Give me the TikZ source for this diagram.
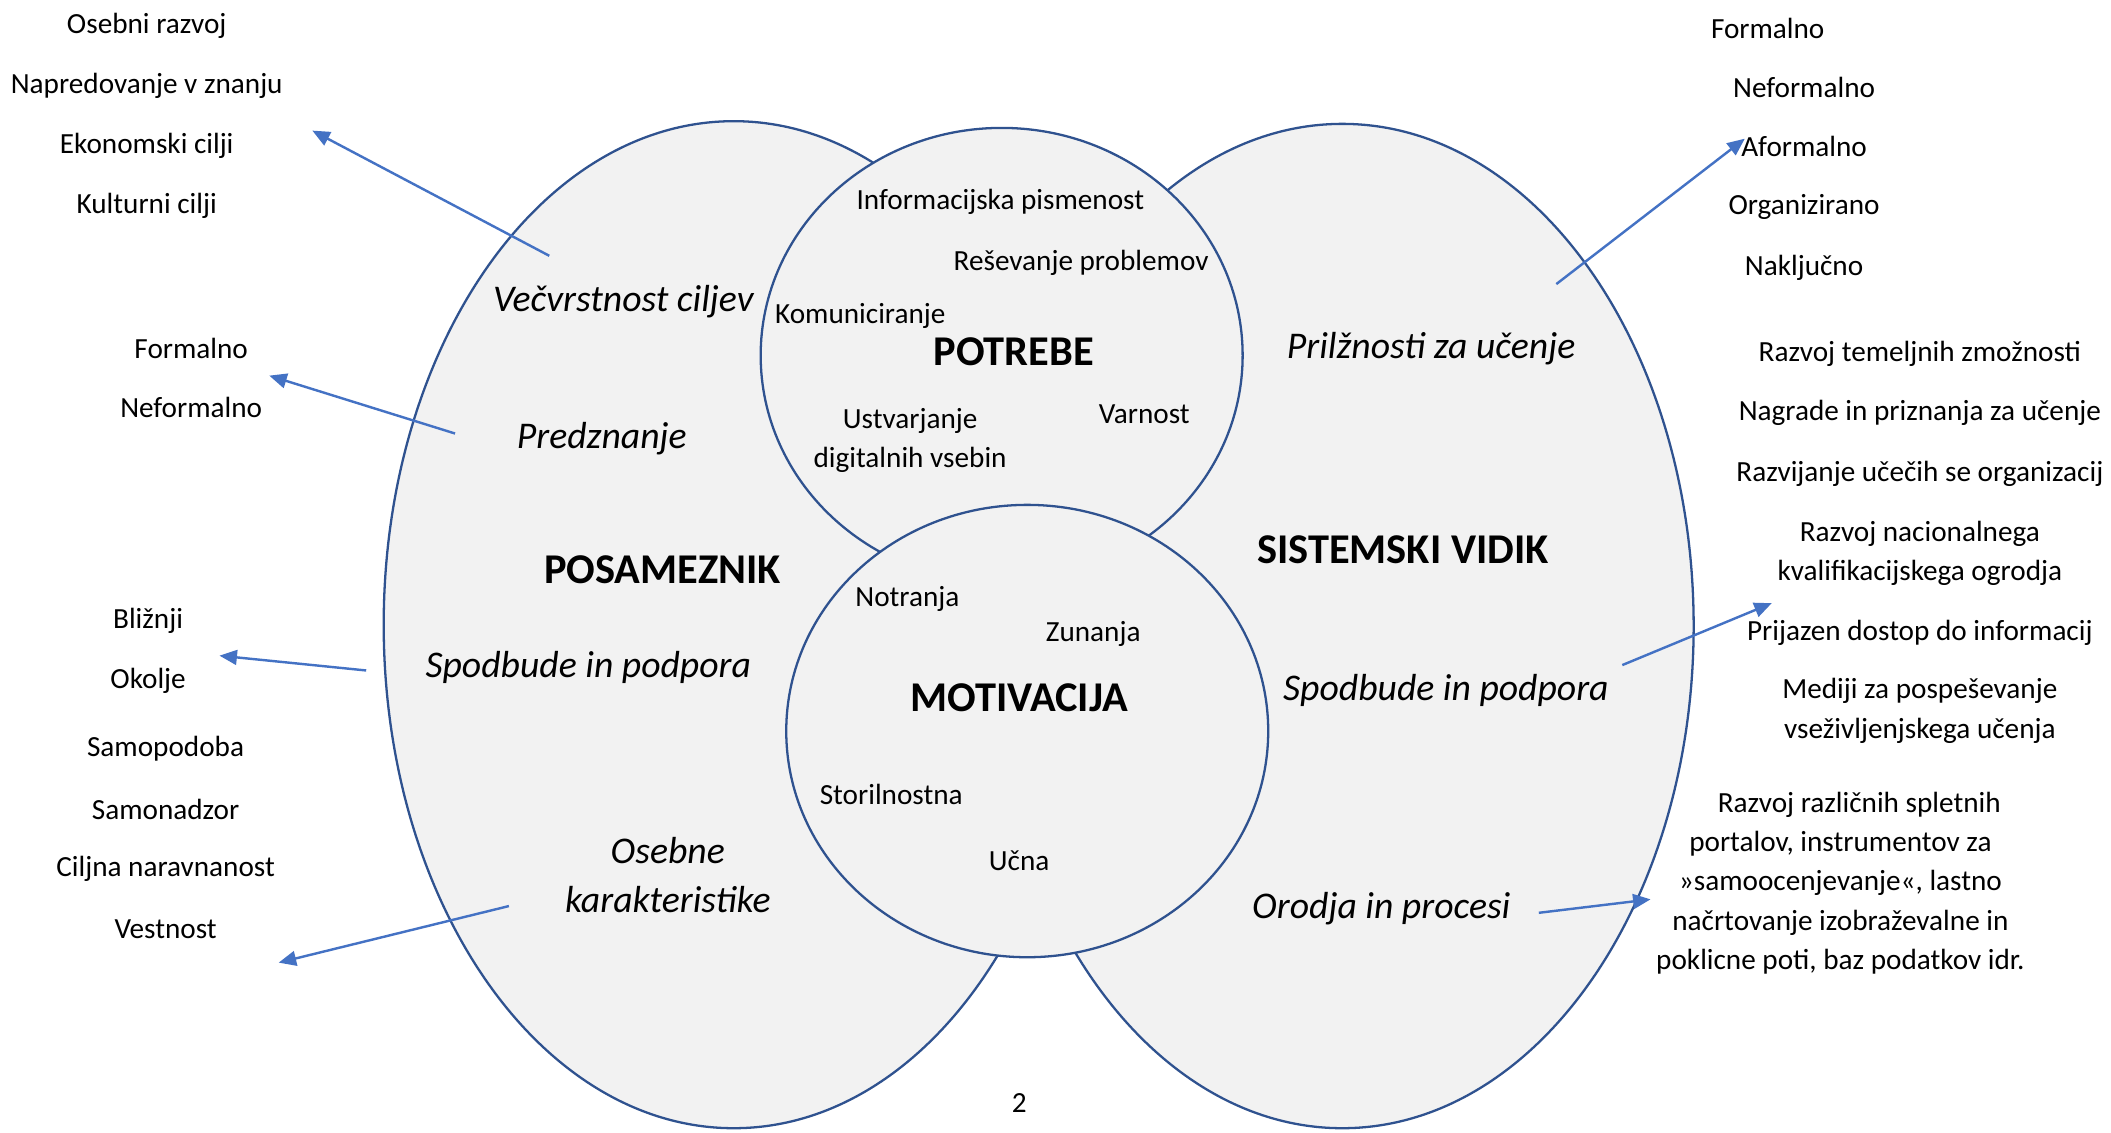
\documentclass[tikz,border=0pt]{standalone}
\usepackage{fontspec}
\setmainfont{Carlito}
\usetikzlibrary{shapes.geometric,arrows.meta}
\definecolor{edgeblue}{HTML}{2F528F}
\definecolor{fillgray}{HTML}{F2F2F2}
\definecolor{arrowblue}{HTML}{4472C4}
\begin{document}
\begin{tikzpicture}[x=1pt,y=-1pt,
  blob/.style={ellipse, draw=edgeblue, fill=fillgray, line width=1.7pt, inner sep=0pt},
  small/.style={font=\fontsize{21.7}{29}\selectfont, inner sep=0pt, align=center, yshift=-2pt},
  ital/.style={font=\fontsize{28}{37}\selectfont\itshape, inner sep=0pt, align=center, yshift=-2pt},
  head/.style={font=\fontsize{31.5}{36}\selectfont\bfseries, inner sep=0pt, yshift=-1pt},
  link/.style={draw=arrowblue, line width=1.8pt, -{Triangle[length=13pt,width=11pt]}}]
\useasboundingbox (0,0) rectangle (1568,841);
\clip (0,0) rectangle (1568,841);
% shapes
\node[blob, minimum width=520pt, minimum height=748pt] (posam) at (545,464) {};
\node[blob, minimum width=522pt, minimum height=746pt] (sist) at (997,465) {};
\node[blob, minimum width=358pt, minimum height=338pt] (potr) at (744,264) {};
\node[blob, minimum width=358pt, minimum height=336pt] (motiv) at (763,543) {};
% left outside lists
\node[small] (t1) at (109,17) {Osebni razvoj};
\node[small] (t2) at (109,62) {Napredovanje v znanju};
\node[small] (t3) at (109,106) {Ekonomski cilji};
\node[small] (t4) at (109,151) {Kulturni cilji};
\node[small] (t5) at (142,257) {Formalno};
\node[small] (t6) at (142,301) {Neformalno};
\node[small] (t7) at (110,459) {Bližnji};
\node[small] (t8) at (110,504) {Okolje};
\node[small] (t9) at (123,554) {Samopodoba};
\node[small] (t10) at (123,599) {Samonadzor};
\node[small] (t11) at (123,643) {Ciljna naravnanost};
\node[small] (t12) at (123,688) {Vestnost};
% left ellipse labels
\node[ital] (vec) at (463,222) {Večvrstnost ciljev};
\node[ital] (pred) at (447,324) {Predznanje};
\node[head] (posl) at (492,422) {POSAMEZNIK};
\node[ital] (spl) at (437,494) {Spodbude in podpora};
\node[ital] (oseb) at (496,648) {Osebne\\karakteristike};
% top circle
\node[small] (inf) at (743,148) {Informacijska pismenost};
\node[small] (res) at (803,193) {Reševanje problemov};
\node[small] (kom) at (639,233) {Komuniciranje};
\node[head] (potl) at (753,260) {POTREBE};
\node[small] (ust) at (676,325) {Ustvarjanje\\digitalnih vsebin};
\node[small] (var) at (850,306) {Varnost};
% bottom circle
\node[small] (notr) at (674,443) {Notranja};
\node[small] (zun) at (812,469) {Zunanja};
\node[head] (motl) at (757,517) {MOTIVACIJA};
\node[small] (stor) at (662,588) {Storilnostna};
\node[small] (ucna) at (757,637) {Učna};
% right ellipse labels
\node[ital] (pril) at (1063,257) {Prilžnosti za učenje};
\node[head] (sisl) at (1042,407) {SISTEMSKI VIDIK};
\node[ital] (spr) at (1074,511) {Spodbude in podpora};
\node[ital] (orod) at (1026,673) {Orodja in procesi};
% right outside lists
\node[small] (r1) at (1313,19) {Formalno};
\node[small] (r2) at (1340,63) {Neformalno};
\node[small] (r3) at (1340,107) {Aformalno};
\node[small] (r4) at (1340,152) {Organizirano};
\node[small] (r5) at (1340,197) {Naključno};
\node[small] (r6) at (1426,261) {Razvoj temeljnih zmožnosti};
\node[small] (r7) at (1426,305) {Nagrade in priznanja za učenje};
\node[small] (r8) at (1426,350) {Razvijanje učečih se organizacij};
\node[small] (r9) at (1426,409) {Razvoj nacionalnega\\kvalifikacijskega ogrodja};
\node[small] (r10) at (1426,468) {Prijazen dostop do informacij};
\node[small] (r11) at (1426,526) {Mediji za pospeševanje\\vseživljenjskega učenja};
\node[small] (r12) at (1367,654) {\hspace*{28pt}Razvoj različnih spletnih\\portalov, instrumentov za\\»samoocenjevanje«, lastno\\načrtovanje izobraževalne in\\poklicne poti, baz podatkov idr.};
\node[small] (pg) at (757,817) {2};
% arrow end points
\coordinate (a1s) at (408,190); \coordinate (a1e) at (232,97);
\coordinate (a2s) at (338,322); \coordinate (a2e) at (200,279);
\coordinate (a3s) at (272,498); \coordinate (a3e) at (163,487);
\coordinate (a4s) at (378,673); \coordinate (a4e) at (207,715);
\coordinate (a5s) at (1156,211); \coordinate (a5e) at (1296,103);
\coordinate (a6s) at (1205,494); \coordinate (a6e) at (1316,448);
\coordinate (a7s) at (1143,678); \coordinate (a7e) at (1226,668);
\draw[link] (a1s) -- (a1e);
\draw[link] (a2s) -- (a2e);
\draw[link] (a3s) -- (a3e);
\draw[link] (a4s) -- (a4e);
\draw[link] (a5s) -- (a5e);
\draw[link] (a6s) -- (a6e);
\draw[link] (a7s) -- (a7e);
\end{tikzpicture}
\end{document}
